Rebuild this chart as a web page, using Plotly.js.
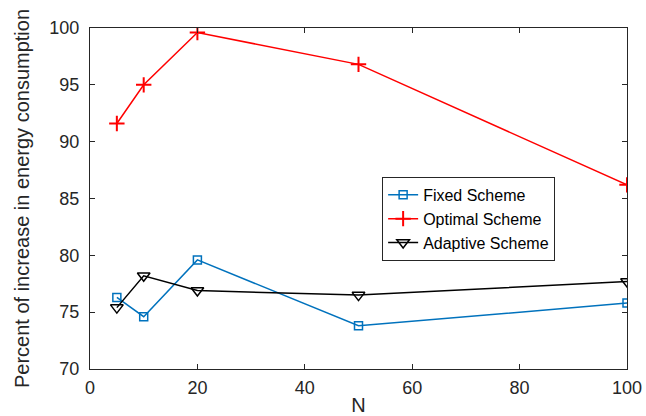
<!DOCTYPE html>
<html>
<head>
<meta charset="utf-8">
<script src="https://cdn.plot.ly/plotly-3.0.1.min.js"></script>
<style>html,body{margin:0;padding:0;background:#fff;}#chart{width:646px;height:416px;}</style>
</head>
<body>
<div id="chart"></div>
<script>
const N = [5, 10, 20, 50, 100];
const fixedScheme = [76.3, 74.6, 79.6, 73.8, 75.8];
const optimalScheme = [91.6, 95.0, 99.6, 96.8, 86.2];
const adaptiveScheme = [75.4, 78.2, 76.9, 76.5, 77.7];
const seriesNames = ['Fixed Scheme', 'Optimal Scheme', 'Adaptive Scheme'];
const xTicks = [0, 20, 40, 60, 80, 100];
const yTicks = [70, 75, 80, 85, 90, 95, 100];

const FONT = 'Liberation Sans, Arial, Helvetica, sans-serif';

const traces = [
  {x: N, y: fixedScheme, name: seriesNames[0], mode: 'lines+markers', type: 'scatter',
   line: {color: '#0072BD', width: 1.5},
   marker: {symbol: 'square-open', size: 8, color: '#0072BD', line: {width: 1.5}}},
  {x: N, y: optimalScheme, name: seriesNames[1], mode: 'lines+markers', type: 'scatter',
   line: {color: '#FF0000', width: 1.5},
   marker: {symbol: 'cross-thin-open', size: 11, color: '#FF0000', line: {width: 2, color: '#FF0000'}}},
  {x: N, y: adaptiveScheme, name: seriesNames[2], mode: 'lines+markers', type: 'scatter',
   line: {color: '#000000', width: 1.5},
   marker: {symbol: 'triangle-down-open', size: 11, color: '#000000', line: {width: 1.5}}}
];

const axisCommon = {
  showgrid: false, zeroline: false, showline: true, linecolor: '#262626', linewidth: 1,
  mirror: 'allticks', ticks: 'inside', ticklen: 5, tickcolor: '#262626',
  tickfont: {family: FONT, size: 18, color: '#262626'}
};

const layout = {
  width: 646, height: 416,
  margin: {l: 90, r: 19, t: 28, b: 47},
  paper_bgcolor: '#fff', plot_bgcolor: '#fff',
  showlegend: true,
  xaxis: Object.assign({}, axisCommon, {
    range: [0, 100], tickvals: xTicks, ticktext: xTicks.map(String),
    ticklabelstandoff: 2,
    title: {text: 'N', font: {family: FONT, size: 20, color: '#262626'}, standoff: 2}
  }),
  yaxis: Object.assign({}, axisCommon, {
    range: [70, 100], tickvals: yTicks, ticktext: yTicks.map(String),
    ticklabelstandoff: 6,
    title: {text: 'Percent of increase in energy consumption', font: {family: FONT, size: 20, color: '#262626'}, standoff: 14}
  }),
  legend: {
    x: 0.544, y: 0.44, xanchor: 'left', yanchor: 'middle',
    bgcolor: '#fff', bordercolor: '#262626', borderwidth: 1,
    font: {family: FONT, size: 16, color: '#000'},
    tracegroupgap: 0, itemwidth: 30
  }
};

Plotly.newPlot('chart', traces, layout, {displayModeBar: false, staticPlot: true});
</script>
</body>
</html>
